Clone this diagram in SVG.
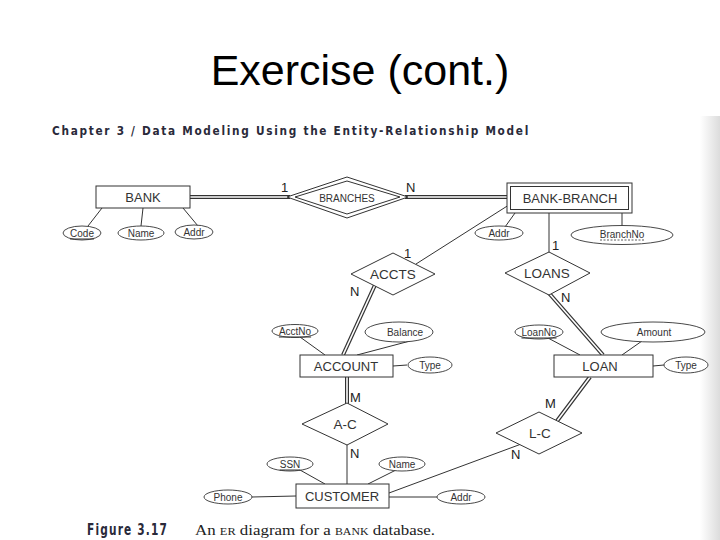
<svg xmlns="http://www.w3.org/2000/svg" width="720" height="540" viewBox="0 0 720 540">
<defs>
<linearGradient id="band" x1="0" y1="0" x2="1" y2="0">
<stop offset="0" stop-color="#ffffff"/>
<stop offset="1" stop-color="#dcdcdc"/>
</linearGradient>
<style>
.ln{stroke:#333;stroke-width:1;fill:none}
.dbo{stroke:#333;stroke-width:4;fill:none}
.dbi{stroke:#fff;stroke-width:1.6;fill:none}
.ent{fill:#fff;stroke:#333;stroke-width:1}
.att{fill:#fff;stroke:#333;stroke-width:0.9}
.t{font-family:"Liberation Sans",Arial,sans-serif;fill:#333;text-anchor:middle;dominant-baseline:central}
.te{font-size:13px}
.ta{font-size:10px}
.tr{font-size:13.5px}
.card{font-family:"Liberation Sans",Arial,sans-serif;fill:#222;font-size:13px}
.key{text-decoration:underline}
</style>
</defs>
<rect width="720" height="540" fill="#fff"/>
<rect x="700" y="116" width="20" height="424" fill="url(#band)"/>

<text x="360" y="85" font-family="'Liberation Sans',Arial,sans-serif" font-size="43" text-anchor="middle" fill="#000">Exercise (cont.)</text>
<text x="52" y="135" font-family="'DejaVu Sans Condensed','Liberation Sans Narrow',sans-serif" font-size="13" fill="#2a2a3a" letter-spacing="1.9" font-weight="bold" textLength="478" lengthAdjust="spacingAndGlyphs">Chapter 3 / Data Modeling Using the Entity-Relationship Model</text>

<g id="connectors">
<line class="ln" x1="102" y1="208" x2="88" y2="226"/>
<line class="ln" x1="143" y1="208" x2="141" y2="226"/>
<line class="ln" x1="183" y1="208" x2="198" y2="226"/>
<line class="dbo" x1="190" y1="197" x2="290" y2="197"/>
<line class="dbi" x1="190" y1="197" x2="290" y2="197"/>
<line class="dbo" x1="405" y1="197" x2="510" y2="197"/>
<line class="dbi" x1="405" y1="197" x2="510" y2="197"/>
<line class="ln" x1="505" y1="227" x2="515" y2="213"/>
<line class="ln" x1="622" y1="213" x2="622" y2="226"/>
<line class="ln" x1="549" y1="213" x2="549" y2="253"/>
<line class="ln" x1="512" y1="203" x2="416" y2="264"/>
<line class="dbo" x1="375" y1="285" x2="343" y2="355"/>
<line class="dbi" x1="375" y1="285" x2="343" y2="355"/>
<line class="ln" x1="300" y1="337" x2="325" y2="355"/>
<line class="ln" x1="410" y1="341" x2="357" y2="355"/>
<line class="ln" x1="393" y1="366" x2="407" y2="365"/>
<line class="dbo" x1="347" y1="377" x2="347" y2="405"/>
<line class="dbi" x1="347" y1="377" x2="347" y2="405"/>
<line class="ln" x1="347" y1="445" x2="347" y2="484"/>
<line class="ln" x1="300" y1="470" x2="325" y2="484"/>
<line class="ln" x1="396" y1="470" x2="368" y2="484"/>
<line class="ln" x1="252" y1="497" x2="296" y2="496"/>
<line class="ln" x1="389" y1="497" x2="437" y2="497"/>
<line class="ln" x1="389" y1="493" x2="524" y2="443"/>
<line class="dbo" x1="557" y1="421" x2="590" y2="377"/>
<line class="dbi" x1="557" y1="421" x2="590" y2="377"/>
<line class="dbo" x1="548" y1="292" x2="603" y2="355"/>
<line class="dbi" x1="548" y1="292" x2="603" y2="355"/>
<line class="ln" x1="548" y1="338" x2="580" y2="355"/>
<line class="ln" x1="642" y1="341" x2="622" y2="355"/>
<line class="ln" x1="653" y1="366" x2="664" y2="365"/>
<text class="card" x="281" y="192">1</text>
<text class="card" x="406" y="192">N</text>
<text class="card" x="552" y="250">1</text>
<text class="card" x="404" y="258">1</text>
<text class="card" x="350" y="296">N</text>
<text class="card" x="561" y="302">N</text>
<text class="card" x="350" y="402">M</text>
<text class="card" x="350" y="458">N</text>
<text class="card" x="545" y="408">M</text>
<text class="card" x="511" y="459">N</text>
</g>

<g id="bank">
<rect class="ent" x="96" y="186" width="94" height="22"/>
<text class="t te" x="143" y="197">BANK</text>
</g>
<g id="bank-code">
<ellipse class="att" cx="82" cy="233" rx="19" ry="7"/>
<text class="t ta key" x="82" y="233">Code</text>
</g>
<g id="bank-name">
<ellipse class="att" cx="141" cy="233" rx="23" ry="7"/>
<text class="t ta" x="141" y="233">Name</text>
</g>
<g id="bank-addr">
<ellipse class="att" cx="194" cy="232" rx="19" ry="7"/>
<text class="t ta" x="194" y="232">Addr</text>
</g>

<g id="branches">
<polygon class="ent" points="287,197 347,177 408,197 347,218"/>
<polygon class="ent" points="295,197 347,181 400,197 347,214"/>
<text class="t ta" x="347" y="198">BRANCHES</text>
</g>

<g id="bank-branch">
<rect class="ent" x="507" y="183" width="125" height="30"/>
<rect class="ent" x="510.5" y="186.5" width="118" height="23"/>
<text class="t te" x="570" y="198" font-size="13.5">BANK-BRANCH</text>
</g>
<g id="branch-addr">
<ellipse class="att" cx="499" cy="233" rx="24" ry="7"/>
<text class="t ta" x="499" y="233">Addr</text>
</g>
<g id="branch-no">
<ellipse class="att" cx="622" cy="235" rx="51" ry="9.5"/>
<text class="t ta" x="622" y="234">BranchNo</text>
<line x1="600" y1="240" x2="644" y2="240" stroke="#333" stroke-width="0.8" stroke-dasharray="2,1.5"/>
</g>

<g id="accts">
<polygon class="ent" points="351,274 393,253 435,274 393,295"/>
<text class="t tr" x="393" y="274">ACCTS</text>
</g>
<g id="loans">
<polygon class="ent" points="505,273 549,252 590,273 549,295"/>
<text class="t tr" x="547" y="273">LOANS</text>
</g>

<g id="account">
<rect class="ent" x="300" y="355" width="93" height="22"/>
<text class="t te" x="346" y="366">ACCOUNT</text>
</g>
<g id="acct-no">
<ellipse class="att" cx="295" cy="331" rx="23" ry="6.5"/>
<text class="t ta key" x="295" y="331">AcctNo</text>
</g>
<g id="balance">
<ellipse class="att" cx="399" cy="332" rx="34" ry="10"/>
<text class="t ta" x="405" y="332">Balance</text>
</g>
<g id="acct-type">
<ellipse class="att" cx="430" cy="365" rx="22" ry="8"/>
<text class="t ta" x="430" y="365">Type</text>
</g>

<g id="loan">
<rect class="ent" x="554" y="355" width="99" height="22"/>
<text class="t te" x="600" y="366">LOAN</text>
</g>
<g id="loan-no">
<ellipse class="att" cx="539" cy="332" rx="24" ry="7"/>
<text class="t ta key" x="539" y="332">LoanNo</text>
</g>
<g id="amount">
<ellipse class="att" cx="653" cy="332" rx="52" ry="10"/>
<text class="t ta" x="654" y="332">Amount</text>
</g>
<g id="loan-type">
<ellipse class="att" cx="686" cy="365" rx="22" ry="8"/>
<text class="t ta" x="686" y="365">Type</text>
</g>

<g id="a-c">
<polygon class="ent" points="302,424 347,403 388,424 347,445"/>
<text class="t tr" x="345" y="424">A-C</text>
</g>
<g id="l-c">
<polygon class="ent" points="496,433 539,412 582,433 539,454"/>
<text class="t tr" x="540" y="433" font-size="12.5">L-C</text>
</g>

<g id="customer">
<rect class="ent" x="296" y="484" width="93" height="24"/>
<text class="t te" x="342" y="496">CUSTOMER</text>
</g>
<g id="ssn">
<ellipse class="att" cx="290" cy="464" rx="23" ry="7"/>
<text class="t ta key" x="290" y="464">SSN</text>
</g>
<g id="cust-name">
<ellipse class="att" cx="402" cy="464" rx="23" ry="7"/>
<text class="t ta" x="402" y="464">Name</text>
</g>
<g id="phone">
<ellipse class="att" cx="228" cy="497" rx="24" ry="7"/>
<text class="t ta" x="228" y="497">Phone</text>
</g>
<g id="cust-addr">
<ellipse class="att" cx="461" cy="497" rx="24" ry="7"/>
<text class="t ta" x="461" y="497">Addr</text>
</g>

<text x="87" y="535" font-family="'DejaVu Sans Condensed','Liberation Sans Narrow',sans-serif" font-weight="bold" font-size="15" fill="#2a2a3a" letter-spacing="1.5" textLength="81" lengthAdjust="spacingAndGlyphs">Figure 3.17</text>
<text x="195" y="535" font-family="'Liberation Serif','Times New Roman',serif" font-size="15" fill="#222" textLength="240" lengthAdjust="spacingAndGlyphs">An <tspan font-size="11">ER</tspan> diagram for a <tspan font-size="10.5">BANK</tspan> database.</text>
</svg>
